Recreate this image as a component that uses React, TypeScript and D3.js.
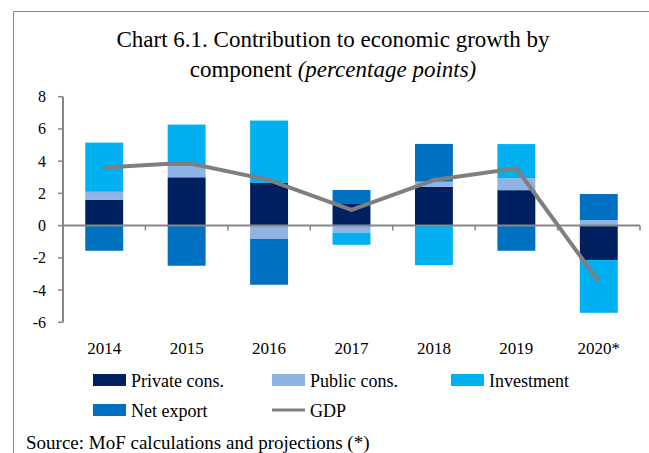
import React from "react";
import * as d3 from "d3";

const years = ["2014", "2015", "2016", "2017", "2018", "2019", "2020*"];
const privateCons = [1.6, 3.0, 2.65, 1.34, 2.4, 2.2, -2.14];
const publicCons = [0.5, 0.7, -0.83, -0.44, 0.33, 0.75, 0.35];
const investment = [3.05, 2.57, 3.87, -0.75, -2.45, 2.11, -3.27];
const netExport = [-1.56, -2.49, -2.84, 0.87, 2.34, -1.56, 1.61];
const gdp = [3.6, 3.9, 2.83, 0.97, 2.83, 3.56, -3.48];
const yTicks = [-6, -4, -2, 0, 2, 4, 6, 8];

const seriesKeys = ["private", "public", "investment", "netExport"];
const seriesLabels = ["Private cons.", "Public cons.", "Investment", "Net export"];
const colors: Record<string, string> = {
  private: "#002060",
  public: "#8DB4E2",
  investment: "#00B0F0",
  netExport: "#0070C0",
};
const gdpColor = "#7F7F7F";
const axisColor = "#868686";
const font = "'Liberation Serif', 'Times New Roman', serif";

export default function App() {
  const W = 649, H = 453;
  const x0 = 63, x1 = 640;
  const x = d3.scaleBand<string>().domain(years).range([x0, x1]).paddingInner(0.54).paddingOuter(0.27);
  const y = d3.scaleLinear().domain([-6, 8]).range([322.3, 96.7]);

  const rows = years.map((yr, i) => ({
    year: yr,
    private: privateCons[i],
    public: publicCons[i],
    investment: investment[i],
    netExport: netExport[i],
  }));
  const stacked = d3.stack<any>().keys(seriesKeys).offset(d3.stackOffsetDiverging)(rows);

  const step = (x1 - x0) / years.length;
  const centers = years.map((yr) => (x(yr) as number) + x.bandwidth() / 2);
  const line = d3
    .line<number>()
    .x((_, i) => centers[i])
    .y((d) => y(d));

  const legendItems = [
    { key: "private", label: seriesLabels[0], lx: 93, ly: 380 },
    { key: "public", label: seriesLabels[1], lx: 272, ly: 380 },
    { key: "investment", label: seriesLabels[2], lx: 451, ly: 380 },
    { key: "netExport", label: seriesLabels[3], lx: 93, ly: 410 },
  ];

  return (
    <svg
      width={W}
      height={H}
      style={{ position: "absolute", left: 0, top: 0, background: "#fff" }}
      fontFamily={font}
    >
      <rect x={0} y={0} width={W} height={H} fill="#fff" />
      {/* frame */}
      <line x1={13.5} y1={11.5} x2={W} y2={11.5} stroke={axisColor} strokeWidth={1} />
      <line x1={13.5} y1={11.5} x2={13.5} y2={H} stroke={axisColor} strokeWidth={1} />

      {/* title */}
      <text x={333} y={47} textAnchor="middle" fontSize={23} fill="#000">
        Chart 6.1. Contribution to economic growth by
      </text>
      <text x={333} y={77} textAnchor="middle" fontSize={23} fill="#000">
        component <tspan fontStyle="italic">(percentage points)</tspan>
      </text>

      {/* bars */}
      {stacked.map((s) => (
        <g key={s.key} fill={colors[s.key]}>
          {s.map((d, i) => (
            <rect
              key={i}
              x={x(years[i])}
              width={x.bandwidth()}
              y={y(Math.max(d[0], d[1]))}
              height={Math.abs(y(d[0]) - y(d[1]))}
            />
          ))}
        </g>
      ))}

      {/* y axis */}
      <line x1={x0} y1={y(8)} x2={x0} y2={y(-6)} stroke={axisColor} strokeWidth={2} />
      {yTicks.map((t) => (
        <g key={t}>
          <line x1={x0 - 5} x2={x0} y1={y(t)} y2={y(t)} stroke={axisColor} strokeWidth={1.5} />
          <text x={46} y={y(t) + 5.5} textAnchor="end" fontSize={16} fill="#000">
            {t}
          </text>
        </g>
      ))}

      {/* x axis */}
      <line x1={x0} y1={y(0)} x2={x1} y2={y(0)} stroke={axisColor} strokeWidth={2} />
      {d3.range(years.length + 1).map((i) => (
        <line
          key={i}
          x1={x0 + i * step}
          x2={x0 + i * step}
          y1={y(0)}
          y2={y(0) + 5}
          stroke={axisColor}
          strokeWidth={1.5}
        />
      ))}

      {/* GDP line */}
      <path d={line(gdp) || ""} fill="none" stroke={gdpColor} strokeWidth={4} strokeLinejoin="round" />

      {/* x labels */}
      {years.map((yr, i) => (
        <text key={yr} x={centers[i]} y={354} textAnchor="middle" fontSize={17} fill="#000">
          {yr}
        </text>
      ))}

      {/* legend */}
      {legendItems.map((it) => (
        <g key={it.key}>
          <rect x={it.lx} y={it.ly - 6} width={33} height={12} fill={colors[it.key]} />
          <text x={it.lx + 38} y={it.ly + 6.5} fontSize={18} fill="#000">
            {it.label}
          </text>
        </g>
      ))}
      <line x1={272} x2={305} y1={410} y2={410} stroke={gdpColor} strokeWidth={3} />
      <text x={310} y={416.5} fontSize={18} fill="#000">
        GDP
      </text>

      {/* source */}
      <text x={26} y={449} fontSize={19} fill="#000">
        Source: MoF calculations and projections (*)
      </text>
    </svg>
  );
}
